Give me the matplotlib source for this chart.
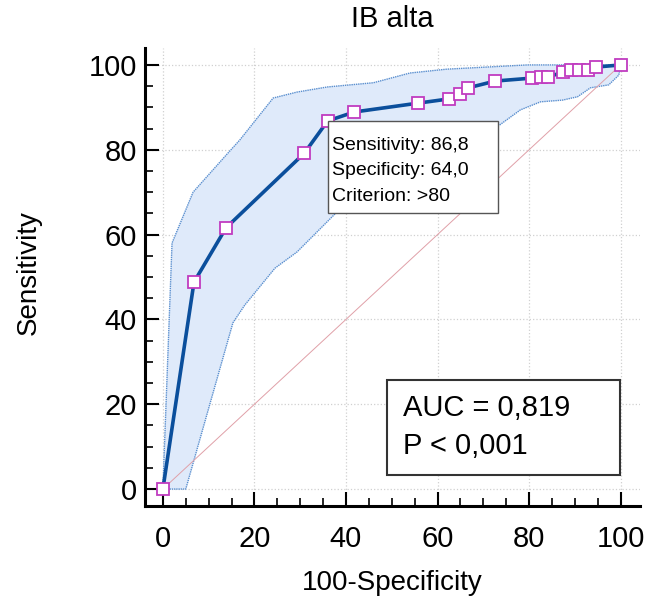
"""
ROC curve for IB alta, with 95% confidence band.
"""
import matplotlib.pyplot as plt
from matplotlib.patches import Rectangle
from matplotlib.ticker import MultipleLocator

plt.rcParams['font.family'] = ['Liberation Sans', 'DejaVu Sans']

# ---------DATA------------
roc_x = [0, 6.8, 13.8, 30.9, 36.0, 41.8, 55.8, 62.6, 64.8, 66.7, 72.6,
         80.7, 82.5, 84.2, 87.5, 89.1, 91.0, 92.8, 94.7, 100]
roc_y = [0, 48.8, 61.6, 79.2, 86.8, 88.9, 91.0, 92.0, 93.2, 94.6, 96.2,
         96.9, 97.2, 97.2, 98.3, 98.8, 98.8, 98.8, 99.5, 100]

upper_x = [0, 2.0, 6.6, 14.2, 16.8, 24.1, 29.3, 35.9, 40.9, 46.0, 54.0, 62.0, 79.6, 100]
upper_y = [0, 58.0, 70.0, 79.2, 82.3, 92.2, 93.6, 94.8, 95.3, 95.8, 98.1, 99.0, 100, 100]

lower_x = [0, 5.0, 15.3, 17.9, 24.5, 29.3, 38.0, 50.0, 60.0, 73.0, 78.1, 82.5,
           87.3, 90.6, 93.4, 97.4, 99.6, 100]
lower_y = [0, 0, 39.2, 43.4, 52.1, 55.9, 65.3, 73.0, 79.0, 85.4, 89.4, 91.3,
           91.7, 92.5, 94.6, 95.3, 97.6, 100]

cut_x, cut_y = 36.0, 86.8
info_lines = ["Sensitivity: 86,8", "Specificity: 64,0", "Criterion: >80"]
auc_lines = ["AUC = 0,819", "P < 0,001"]

fig = plt.figure(figsize=(6.46, 5.98), dpi=100)
ax = fig.add_axes([0.2245, 0.1538, 0.766, 0.766])

# confidence band
band_x = upper_x + lower_x[::-1]
band_y = upper_y + lower_y[::-1]
ax.fill(band_x, band_y, color="#dfeafa", lw=0, zorder=1)
ax.plot(upper_x, upper_y, color="#5a8fcf", lw=1.0, ls=(0, (1, 0.6)), zorder=2)
ax.plot(lower_x, lower_y, color="#5a8fcf", lw=1.0, ls=(0, (1, 0.6)), zorder=2)

# reference diagonal
ax.plot([0, 100], [0, 100], color="#e0a0a8", lw=0.7, zorder=2)

# ROC curve
ax.plot(roc_x, roc_y, color="#0b4f9c", lw=2.6, zorder=3,
        marker="s", markersize=8.5, markerfacecolor="white",
        markeredgecolor="#c03cc0", markeredgewidth=1.3)

# info box at the cutoff point
box_w, box_h = 37.3, 21.7
ax.add_patch(Rectangle((cut_x, cut_y - box_h), box_w, box_h, facecolor="white",
                       edgecolor="#555555", lw=1.0, zorder=4))
for i, line in enumerate(info_lines):
    ax.text(cut_x + 0.9, cut_y - 5.8 - i * 6.0, line, fontsize=14,
            va="center", ha="left", zorder=5)

# AUC box
ax.add_patch(Rectangle((49.0, 3.3), 50.8, 22.4, facecolor="white",
                       edgecolor="#333333", lw=1.5, zorder=4))
for i, line in enumerate(auc_lines):
    ax.text(52.5, 19.1 - i * 9.0, line, fontsize=21, va="center", ha="left", zorder=5)

# axes styling
ax.set_xlim(-3.9, 104.2)
ax.set_ylim(-4.0, 104.0)
ax.xaxis.set_major_locator(MultipleLocator(20))
ax.yaxis.set_major_locator(MultipleLocator(20))
ax.xaxis.set_minor_locator(MultipleLocator(5))
ax.yaxis.set_minor_locator(MultipleLocator(5))
ax.grid(True, which="major", color="#d0d0d0", ls=":", lw=0.9, zorder=0)
ax.set_axisbelow(True)

for s in ["top", "right"]:
    ax.spines[s].set_visible(False)
for s in ["left", "bottom"]:
    ax.spines[s].set_linewidth(2.2)

ax.tick_params(which="major", direction="in", length=10, width=1.5, labelsize=21)
ax.tick_params(which="minor", direction="in", length=5.5, width=1.2)
ax.tick_params(axis="y", which="major", pad=6)
ax.tick_params(axis="x", which="major", pad=14)

ax.set_title("IB alta", fontsize=21, pad=15)
ax.set_xlabel("100-Specificity", fontsize=20)
ax.set_ylabel("Sensitivity", fontsize=20)
ax.xaxis.set_label_coords(0.5, -0.14)
ax.yaxis.set_label_coords(-0.208, 0.509)

fig.savefig("out.png", dpi=100)
